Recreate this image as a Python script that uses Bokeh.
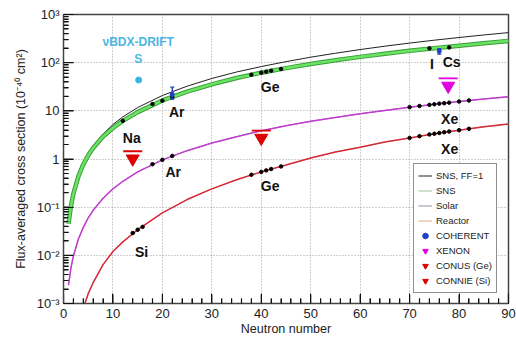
from bokeh.plotting import figure
from bokeh.models import (Range1d, FixedTicker, CustomJSTickFormatter, Legend,
                          LegendItem, ColumnDataSource)
from bokeh.core.properties import value
from bokeh.embed import file_html
from bokeh.resources import INLINE

# Flux-averaged CEvNS cross sections (1e-40 cm^2) against neutron number
curve_n = [1, 1.5, 2, 3, 4, 5, 6, 8, 10, 12, 15, 20, 25, 30, 35, 40, 45, 50,
           55, 60, 65, 70, 75, 80, 85, 90]
sns_ff1 = [0.052, 0.117, 0.21, 0.47, 0.83, 1.3, 1.87, 3.3, 5.2, 7.5, 11.7, 20.8,
           32.5, 47, 64, 83, 105, 130, 157, 187, 220, 255, 293, 333, 376, 421]
sns = [0.045, 0.105, 0.19, 0.43, 0.77, 1.19, 1.69, 2.93, 4.4, 6.2, 9.4, 16.4, 25,
       35.5, 48, 62, 77, 94, 112, 132, 153, 176, 200, 225, 253, 283]
solar = [0.0024, 0.0054, 0.0096, 0.0216, 0.038, 0.06, 0.086, 0.153, 0.24, 0.345,
         0.54, 0.96, 1.49, 2.14, 2.9, 3.85, 4.9, 6.05, 7.3, 8.7, 10.2, 11.9,
         13.7, 15.6, 17.6, 19.7]
reactor_n = [4, 5, 6, 8, 10, 12, 15, 20, 25, 30, 35, 40, 45, 50, 55, 60, 65, 70,
             75, 80, 85, 90]
reactor = [0.0008, 0.0016, 0.0027, 0.0064, 0.012, 0.019, 0.034, 0.076, 0.144,
           0.24, 0.37, 0.54, 0.75, 1.05, 1.4, 1.76, 2.25, 2.74, 3.35, 3.97, 4.65,
           5.35]

# isotopes marked on each curve
sns_iso_n = [12, 18, 20, 22, 38, 40, 41, 42, 44, 74, 78]
sns_iso_v = [6.2, 13.8, 16.2, 19.0, 56, 62, 65, 68, 74, 199, 207]
solar_iso_n = [18, 20, 22, 70, 72, 74, 75, 76, 77, 78, 80, 82]
solar_iso_v = [0.78, 0.96, 1.16, 11.9, 12.6, 13.3, 13.7, 14.1, 14.4, 14.8, 15.6, 16.4]
reactor_iso_n = [14, 15, 16, 38, 40, 41, 42, 44, 70, 72, 74, 75, 76, 77, 78, 80, 82]
reactor_iso_v = [0.029, 0.034, 0.039, 0.47, 0.54, 0.58, 0.62, 0.70, 2.74, 2.98,
                 3.23, 3.35, 3.47, 3.6, 3.72, 3.97, 4.24]

# measurements and upper limits
coherent_n = [22, 76]
coherent_v = [22, 172]
coherent_lo = [17.5, 150]
coherent_hi = [31, 196]
xenon_n = [77.8]
xenon_lim = [47]
conus_n = [40]
conus_lim = [3.9]
connie_n = [14]
connie_lim = [1.45]
bdx_n = [15.2]
bdx_v = [43.6]

# element tags
tag_text = ["Na", "Ar", "Ar", "Ge", "Ge", "Si", "I", "Cs", "Xe", "Xe"]
tag_n = [13.8, 22.9, 22.2, 41.8, 41.8, 15.8, 74.5, 78.5, 78.1, 78.1]
tag_v = [2.73, 9.3, 0.54, 31.2, 0.275, 0.0118, 94, 101, 6.8, 1.6]

y_tick_labels = ["10⁻³", "10⁻²", "10⁻¹", "1", "10", "10²", "10³"]
x_ticks = [0, 10, 20, 30, 40, 50, 60, 70, 80, 90]

FONT = "Liberation Sans"
W, H = 516, 338
LEFT, RIGHT, TOP, BOTTOM = 63, 8, 14, 35
X_LO, X_HI, Y_LO, Y_HI = 0, 90, 1e-3, 1e3
frame_w = W - LEFT - RIGHT
frame_h = H - TOP - BOTTOM
x_per_px = (X_HI - X_LO) / frame_w           # data units per pixel along x
dec_per_px = 6.0 / frame_h                   # decades per pixel along y

def px_up(v, px):
    """Value lying px pixels above v on the log axis."""
    return v * 10 ** (px * dec_per_px)

y_major = [10.0 ** k for k in range(-3, 4)]
y_minor = [m * 10.0 ** k for k in range(-3, 3) for m in range(2, 10)]
x_minor = [n for n in range(0, 91, 2) if n % 10]

p = figure(width=W, height=H, output_backend="svg", toolbar_location=None,
           y_axis_type="log", x_range=Range1d(X_LO, X_HI), y_range=Range1d(Y_LO, Y_HI),
           min_border_left=LEFT, min_border_right=RIGHT,
           min_border_top=TOP, min_border_bottom=BOTTOM)
p.background_fill_color = "white"
p.border_fill_color = "white"
p.outline_line_color = "#444444"
p.outline_line_width = 1.5

# axes with inward ticks
p.xaxis.ticker = FixedTicker(ticks=x_ticks, minor_ticks=x_minor)
p.yaxis.ticker = FixedTicker(ticks=y_major, minor_ticks=y_minor)
p.yaxis.formatter = CustomJSTickFormatter(
    args=dict(labels=y_tick_labels),
    code="return labels[Math.round(Math.log10(tick)) + 3];")
for ax in (p.xaxis[0], p.yaxis[0]):
    ax.major_tick_in = 10
    ax.major_tick_out = 0
    ax.minor_tick_in = 5
    ax.minor_tick_out = 0
    ax.axis_line_color = "#444444"
    ax.major_tick_line_color = "#111111"
    ax.minor_tick_line_color = "#111111"
    ax.major_label_text_font = FONT
    ax.major_label_text_font_size = "13px"
    ax.major_label_text_color = "#222222"
    ax.axis_label_text_font = FONT
    ax.axis_label_text_font_size = "12.5px"
    ax.axis_label_text_font_style = "normal"
    ax.axis_label_text_color = "#222222"
p.xaxis.axis_label = "Neutron number"
p.xaxis.axis_label_standoff = 1
p.xaxis.major_label_standoff = 5
p.yaxis.axis_label = "Flux-averaged cross section (10⁻⁴⁰ cm²)"
p.yaxis.axis_label_standoff = 6
p.yaxis.major_label_standoff = 4

for g in (p.xgrid[0], p.ygrid[0]):
    g.grid_line_color = "#a0a0a0"
    g.grid_line_dash = "1 2"
    g.grid_line_width = 1

# the same inward ticks drawn again as glyphs inside the frame
TICK = "#111111"
def y_tick_marks(vals, length):
    p.segment(x0=[X_LO] * len(vals), y0=vals, x1=[X_LO + length * x_per_px] * len(vals),
              y1=vals, line_color=TICK, line_width=1.2)
def x_tick_marks(vals, length):
    p.segment(x0=vals, y0=[Y_LO] * len(vals), x1=vals,
              y1=[px_up(Y_LO, length)] * len(vals), line_color=TICK, line_width=1.2)
y_tick_marks(y_major, 10)
y_tick_marks(y_minor, 5)
x_tick_marks(x_ticks, 9)
x_tick_marks(x_minor, 5)

# thin legend swatches, laid under the curves they stand for
lg_sns = p.line(curve_n, sns, line_color="#9cc49c", line_width=1)
lg_solar = p.line(curve_n, solar, line_color="#9a8a9e", line_width=1)
lg_reactor = p.line(reactor_n, reactor, line_color="#e2a88a", line_width=1)

# theory curves
r_ff1 = p.line(curve_n, sns_ff1, line_color="#222222", line_width=1)
p.line(curve_n, sns, line_color="#3a9a3a", line_width=4.5)
p.line(curve_n, sns, line_color="#6ae262", line_width=2.6)
p.line(curve_n, solar, line_color="#c23ccf", line_width=1.5)
p.line(reactor_n, reactor, line_color="#d42a3a", line_width=1.5)

p.scatter(sns_iso_n, sns_iso_v, size=3.5, color="black")
p.scatter(solar_iso_n, solar_iso_v, size=3.5, color="black")
p.scatter(reactor_iso_n, reactor_iso_v, size=3.5, color="black")

# COHERENT points with error bars and small caps
COH = "#2040c8"
r_coh_dot = p.scatter(coherent_n, coherent_v, size=4, color=COH)
p.segment(x0=coherent_n, y0=coherent_lo, x1=coherent_n, y1=coherent_hi,
          line_color=COH, line_width=1.5)
cap = 2 * x_per_px
for ends in (coherent_lo, coherent_hi):
    p.segment(x0=[n - cap for n in coherent_n], y0=ends,
              x1=[n + cap for n in coherent_n], y1=ends, line_color=COH, line_width=1.2)

# upper limits: bar at the limit, arrow head a little below it
def limit(ns, lims, color):
    lowered = [px_up(v, -7.5) for v in lims]
    half = 9.5 * x_per_px
    small = p.scatter(ns, lowered, marker="inverted_triangle", size=7,
                      fill_color=color, line_color=color)
    p.segment(x0=[n - half for n in ns], y0=lims, x1=[n + half for n in ns], y1=lims,
              line_color=color, line_width=1.8)
    p.scatter(ns, lowered, marker="inverted_triangle", size=13,
              fill_color=color, line_color=color)
    return small

r_xenon = limit(xenon_n, xenon_lim, "#e000e0")
r_conus = limit(conus_n, conus_lim, "#dd0000")
r_connie = limit(connie_n, connie_lim, "#dd0000")

# nuBDX-DRIFT projection
p.scatter(bdx_n, bdx_v, size=6, color="#3cb4e0")
p.text(x=[15.1, 15.1], y=[266, 118], text=["νBDX-DRIFT", "S"],
       text_font=value(FONT), text_font_size="12px", text_font_style="bold",
       text_color="#49b6e2", text_align="center", text_baseline="middle")

tags = ColumnDataSource(dict(x=tag_n, y=tag_v, t=tag_text))
p.text(x="x", y="y", text="t", source=tags, text_font=value(FONT),
       text_font_size="14px", text_font_style="bold", text_color="#111111",
       text_align="center", text_baseline="middle")

legend = Legend(items=[
    LegendItem(label="SNS, FF=1", renderers=[r_ff1]),
    LegendItem(label="SNS", renderers=[lg_sns]),
    LegendItem(label="Solar", renderers=[lg_solar]),
    LegendItem(label="Reactor", renderers=[lg_reactor]),
    LegendItem(label="COHERENT", renderers=[r_coh_dot]),
    LegendItem(label="XENON", renderers=[r_xenon]),
    LegendItem(label="CONUS (Ge)", renderers=[r_conus]),
    LegendItem(label="CONNIE (Si)", renderers=[r_connie]),
], location=(350, 10))
legend.label_text_font = FONT
legend.label_text_font_size = "9.5px"
legend.label_text_color = "#222222"
legend.glyph_width = 14
legend.glyph_height = 15
legend.label_height = 15
legend.label_standoff = 4
legend.spacing = 0
legend.padding = 4
legend.margin = 0
legend.border_line_color = "#222222"
legend.border_line_width = 1
legend.background_fill_alpha = 1
p.add_layout(legend)

open("out.html", "w").write(file_html(p, INLINE))
